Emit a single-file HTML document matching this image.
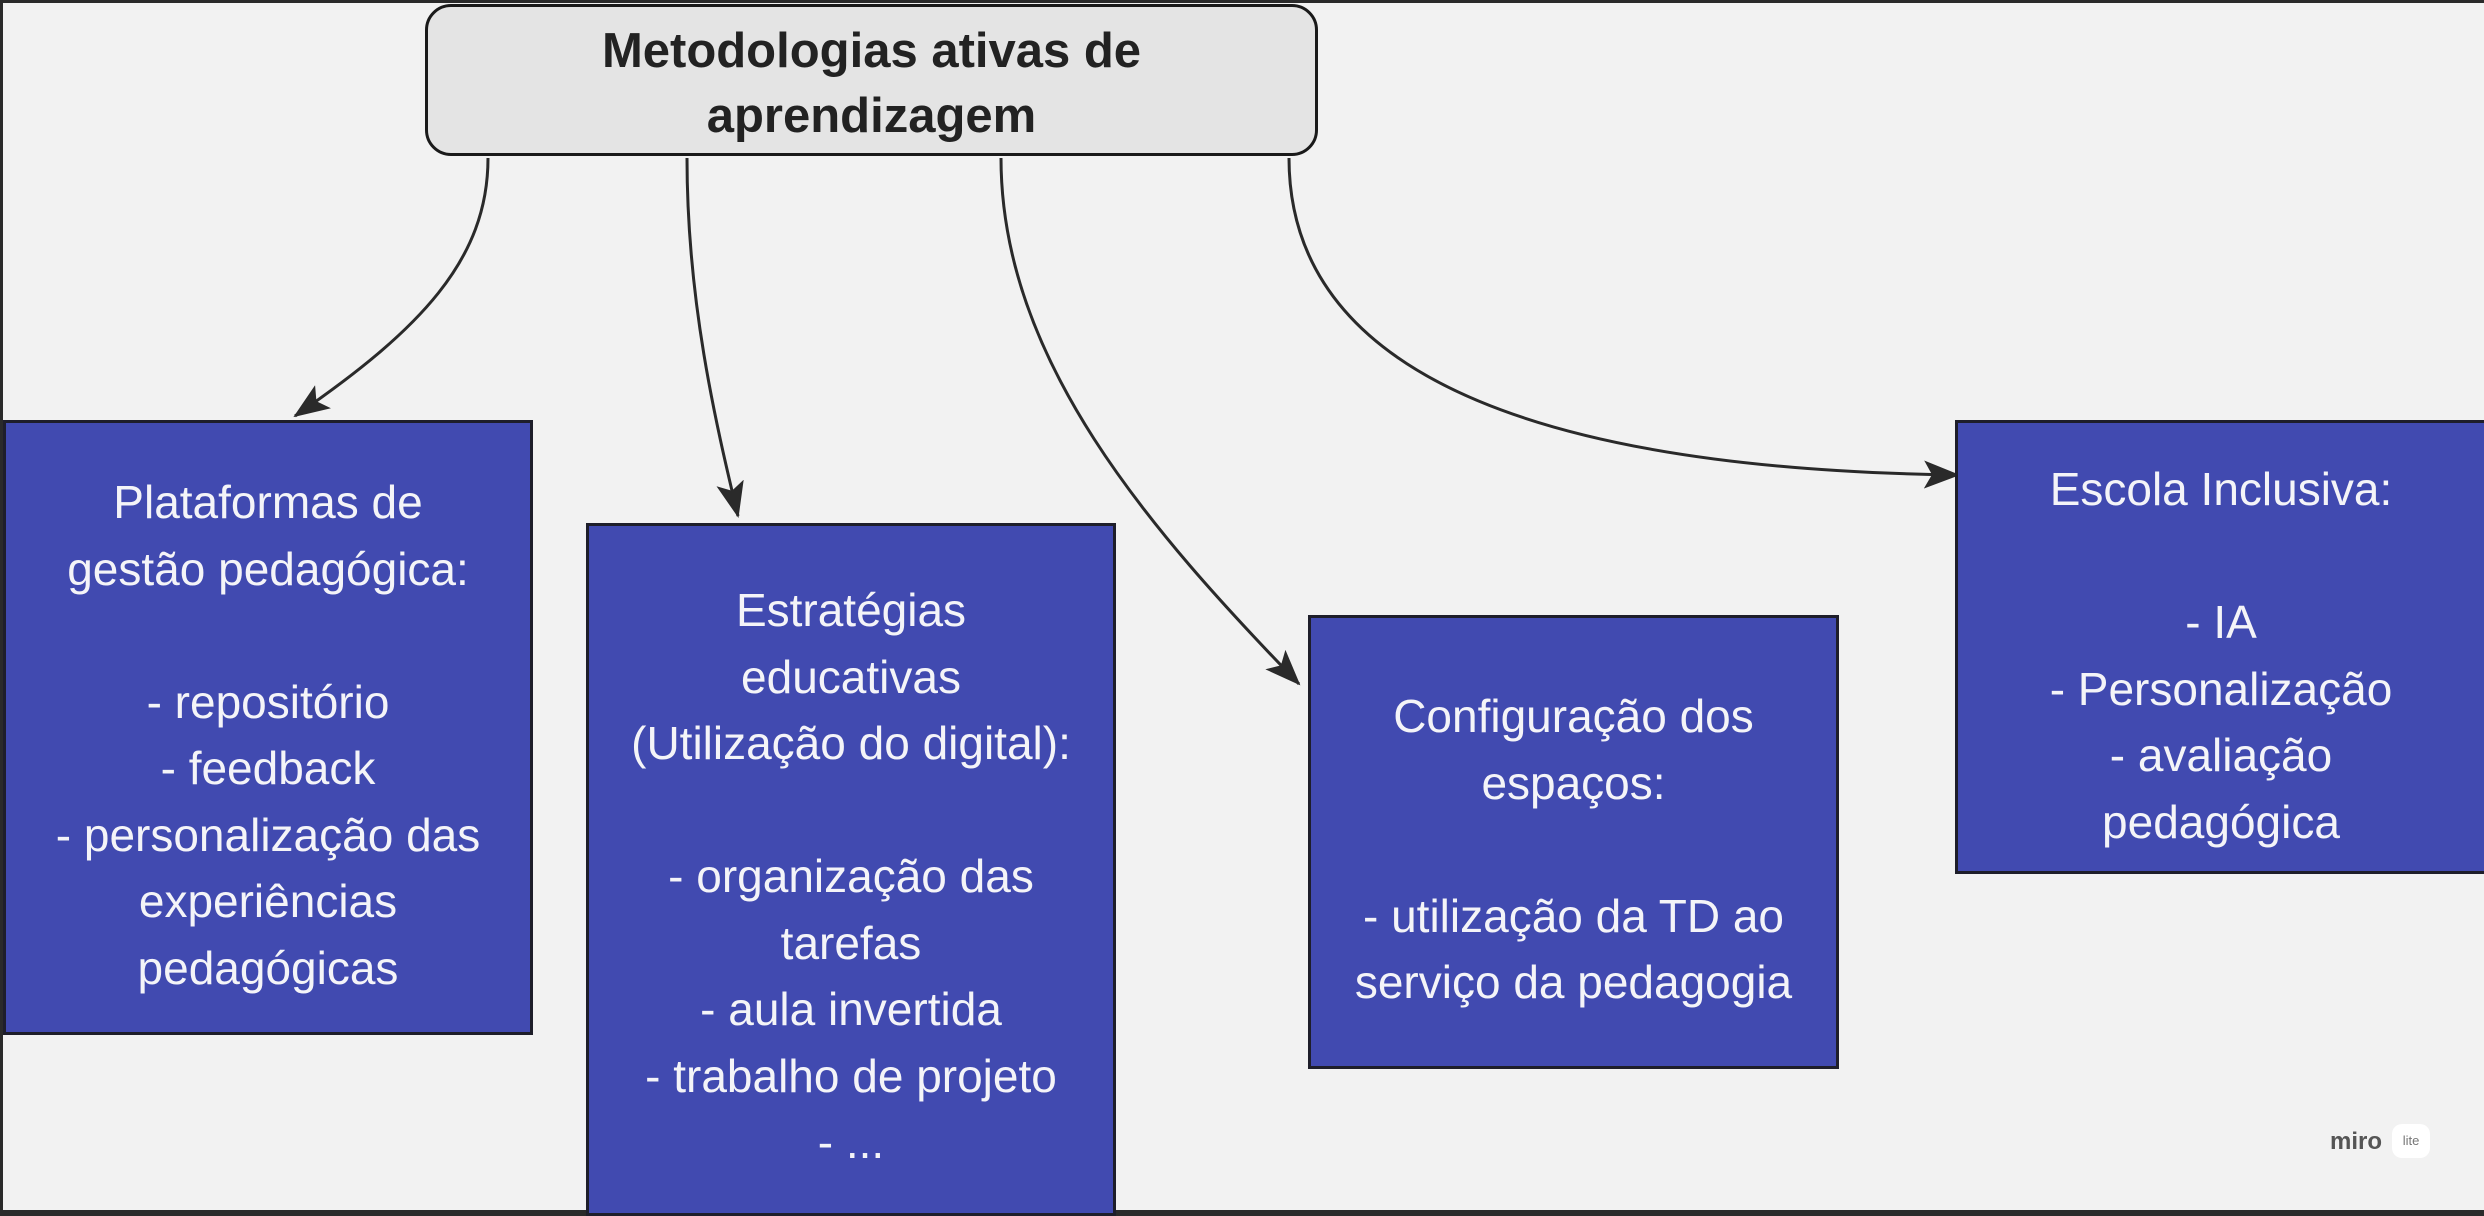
<!DOCTYPE html>
<html><head><meta charset="utf-8"><style>
html,body{margin:0;padding:0;}
body{width:2484px;height:1216px;background:#f2f2f2;position:relative;overflow:hidden;font-family:"Liberation Sans",sans-serif;}
.frame{position:absolute;left:0;top:0;width:2484px;height:1216px;box-sizing:border-box;border-left:3px solid #2a2a2a;border-top:3px solid #2a2a2a;border-bottom:6px solid #2a2a2a;}
.box{position:absolute;background:#414ab0;border:3px solid #1e1e2a;box-sizing:border-box;color:#f4f4f8;text-align:center;font-size:46px;line-height:66.5px;}
.top{position:absolute;left:425px;top:4px;width:893px;height:152px;box-sizing:border-box;background:#e4e4e4;border:3px solid #1a1a1a;border-radius:26px;text-align:center;font-weight:bold;font-size:49px;line-height:65px;color:#222;padding-top:12px;}
.line{white-space:nowrap;}
</style></head><body>
<div class="frame"></div>
<svg width="2484" height="1216" style="position:absolute;left:0;top:0">
<defs>
<marker id="b" markerWidth="36" markerHeight="28" refX="34" refY="14" orient="auto" markerUnits="userSpaceOnUse"><path d="M0,0 L36,14 L0,28 L8,14 z" fill="#2a2a2a"/></marker></defs>
<g fill="none" stroke="#2a2a2a" stroke-width="3">
<path d="M488,158 C488,260 420,330 295,416" marker-end="url(#b)"/>
<path d="M687,158 C687,300 715,420 738,516" marker-end="url(#b)"/>
<path d="M1001,158 C1001,360 1150,530 1299,684" marker-end="url(#b)"/>
<path d="M1289,158 C1289,400 1600,470 1958,475" marker-end="url(#b)"/>
</g></svg>
<div class="top"><div class="line">Metodologias ativas de</div><div class="line">aprendizagem</div></div>
<div class="box" style="left:3px;top:420px;width:530px;height:615px;padding-top:46px;">
<div class="line">Plataformas de</div><div class="line">gestão pedagógica:</div><div>&nbsp;</div><div class="line">- repositório</div><div class="line">- feedback</div><div class="line">- personalização das</div><div class="line">experiências</div><div class="line">pedagógicas</div></div>
<div class="box" style="left:586px;top:523px;width:530px;height:693px;padding-top:51px;">
<div class="line">Estratégias</div><div class="line">educativas</div><div class="line">(Utilização do digital):</div><div>&nbsp;</div><div class="line">- organização das</div><div class="line">tarefas</div><div class="line">- aula invertida</div><div class="line">- trabalho de projeto</div><div class="line">- ...</div></div>
<div class="box" style="left:1308px;top:615px;width:531px;height:454px;padding-top:65px;">
<div class="line">Configuração dos</div><div class="line">espaços:</div><div>&nbsp;</div><div class="line">- utilização da TD ao</div><div class="line">serviço da pedagogia</div></div>
<div class="box" style="left:1955px;top:420px;width:532px;height:454px;padding-top:33px;">
<div class="line">Escola Inclusiva:</div><div>&nbsp;</div><div class="line">- IA</div><div class="line">- Personalização</div><div class="line">- avaliação</div><div class="line">pedagógica</div></div>
<div style="position:absolute;left:2330px;top:1128px;font-size:24px;font-weight:bold;color:#555;">miro</div>
<div style="position:absolute;left:2392px;top:1124px;width:38px;height:34px;border-radius:10px;background:#fff;font-size:13px;color:#777;text-align:center;line-height:34px;">lite</div>
</body></html>
